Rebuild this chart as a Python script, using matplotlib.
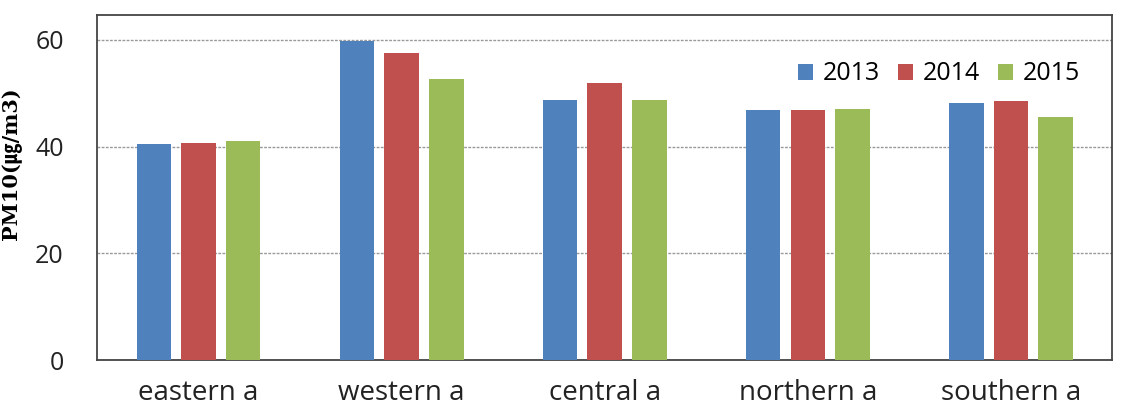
import numpy as np
import matplotlib.pyplot as plt

regions = ['eastern a', 'western a', 'central a', 'northern a', 'southern a']
years = ['2013', '2014', '2015']
pm_2013 = [40.4, 59.8, 48.8, 46.9, 48.2]
pm_2014 = [40.7, 57.6, 52.0, 46.9, 48.5]
pm_2015 = [41.0, 52.7, 48.8, 47.1, 45.5]
colors = ['#4f81bd', '#c0504d', '#9bbb59']

fig = plt.figure(figsize=(11.41, 4.11), dpi=100)
ax = fig.add_axes([0.085, 0.124, 0.89, 0.84])

x = np.arange(len(regions))
w = 0.17
for i, (vals, yr) in enumerate(zip([pm_2013, pm_2014, pm_2015], years)):
    ax.bar(x + (i - 1) * 0.22, vals, w, color=colors[i], label=yr, zorder=3)

ax.set_xlim(-0.5, 4.5)
ax.set_ylim(0, 64.7)
ax.set_yticks([0, 20, 40, 60])
ax.set_xticks(x)
ax.set_xticklabels(regions, fontsize=20, family='Open Sans', color='#222222')
ax.tick_params(axis='y', labelsize=18, length=0, pad=24, labelcolor='#222222')
ax.tick_params(axis='x', length=0, pad=14)
for lab in ax.get_yticklabels():
    lab.set_family('Open Sans')
ax.grid(axis='y', linestyle=(0, (2, 1)), color='#999999', linewidth=1.0, zorder=0)
for s in ax.spines.values():
    s.set_color('#444444')
    s.set_linewidth(1.3)

ax.set_ylabel('PM10(㎍/m3)', fontsize=15, fontweight='bold',
              family=['DejaVu Serif', 'Noto Sans CJK KR'])
ax.yaxis.set_label_coords(-0.074, 0.57)

leg = ax.legend(loc='upper right', bbox_to_anchor=(0.99, 0.93), ncol=3, frameon=False,
                prop={'family': 'Open Sans', 'size': 18}, handlelength=0.6, handleheight=0.6,
                handletextpad=0.4, columnspacing=0.7)

fig.savefig('out.png')
